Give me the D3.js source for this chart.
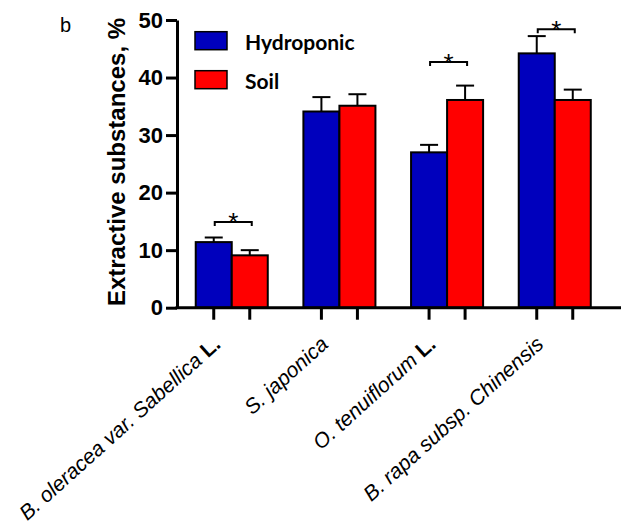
<!DOCTYPE html>
<html>
<head>
<meta charset="utf-8">
<script src="https://cdn.jsdelivr.net/npm/d3@7"></script>
<style>
  body { margin: 0; background: #fff; }
  svg { display: block; }
</style>
</head>
<body>
<svg id="chart" width="624" height="528"></svg>
<script>
const CATEGORIES = [
  ['B. oleracea var. Sabellica', ' L.'],
  ['S. japonica', ''],
  ['O. tenuiflorum', ' L.'],
  ['B. rapa subsp. Chinensis', '']
];
const SERIES = ['Hydroponic', 'Soil'];
const HYDRO = [11.4, 34.1, 27.0, 44.2];
const HYDRO_ERR = [0.8, 2.5, 1.3, 3.0];
const SOIL = [9.1, 35.1, 36.1, 36.1];
const SOIL_ERR = [0.9, 2.0, 2.5, 1.8];
// bracket level (data units) for the significance marks, null = none
const SIG = [14.9, null, 42.7, 48.4];
const Y_TICKS = [0, 10, 20, 30, 40, 50];
const COLORS = ['#0000bd', '#ff0000'];

const svg = d3.select('#chart');

const y = d3.scaleLinear().domain([0, 50]).range([307.7, 20]);
const x0 = d3.scaleBand().domain(d3.range(CATEGORIES.length))
  .range([177, 609.5]).paddingInner(0.331).paddingOuter(0.174);
const x1 = d3.scaleBand().domain(SERIES).range([0, x0.bandwidth()]);

const rows = CATEGORIES.map((c, i) => [
  { s: 'Hydroponic', v: HYDRO[i], e: HYDRO_ERR[i], i: i, k: 0 },
  { s: 'Soil', v: SOIL[i], e: SOIL_ERR[i], i: i, k: 1 }
]);
const flat = rows.flat();

// bars
svg.append('g').selectAll('rect')
  .data(flat).enter().append('rect')
  .attr('x', d => x0(d.i) + x1(d.s))
  .attr('y', d => y(d.v))
  .attr('width', x1.bandwidth())
  .attr('height', d => y(0) - y(d.v))
  .attr('fill', d => COLORS[d.k])
  .attr('stroke', '#000')
  .attr('stroke-width', 2);

// error bars
const eb = svg.append('g').attr('stroke', '#000').attr('stroke-width', 2);
flat.forEach(d => {
  const cx = x0(d.i) + x1(d.s) + x1.bandwidth() / 2;
  eb.append('line').attr('x1', cx).attr('x2', cx).attr('y1', y(d.v)).attr('y2', y(d.v + d.e));
  eb.append('line').attr('x1', cx - 9).attr('x2', cx + 9).attr('y1', y(d.v + d.e)).attr('y2', y(d.v + d.e));
});

// significance brackets
SIG.forEach((lvl, i) => {
  if (lvl == null) return;
  const a = x0(i) + x1('Hydroponic') + x1.bandwidth() / 2 + 1;
  const b = x0(i) + x1('Soil') + x1.bandwidth() / 2 + 2;
  const yy = y(lvl);
  svg.append('path')
    .attr('d', `M${a},${yy + 4}V${yy}H${b}V${yy + 4}`)
    .attr('fill', 'none').attr('stroke', '#000').attr('stroke-width', 2);
  svg.append('text')
    .attr('x', (a + b) / 2).attr('y', yy + 9.5)
    .attr('text-anchor', 'middle')
    .attr('font-family', 'Liberation Sans, Arial, sans-serif')
    .attr('font-size', 26)
    .text('*');
});

// y axis
const yAxis = svg.append('g')
  .attr('transform', 'translate(177,0)')
  .call(d3.axisLeft(y).tickValues(Y_TICKS).tickSize(11).tickSizeOuter(0).tickPadding(3));
yAxis.select('.domain').attr('stroke-width', 3);
yAxis.selectAll('.tick line').attr('stroke-width', 3);
yAxis.selectAll('.tick text')
  .attr('font-family', 'Liberation Sans, Arial, sans-serif')
  .attr('font-weight', 'bold').attr('font-size', 22).attr('fill', '#000');

// x axis: domain line + tick under each bar
const xa = svg.append('g').attr('stroke', '#000');
xa.append('line').attr('x1', 175.5).attr('x2', 621).attr('y1', y(0)).attr('y2', y(0)).attr('stroke-width', 3);
flat.forEach(d => {
  const cx = x0(d.i) + x1(d.s) + x1.bandwidth() / 2;
  xa.append('line').attr('x1', cx).attr('x2', cx).attr('y1', y(0)).attr('y2', y(0) + 12).attr('stroke-width', 3);
});

// category labels
CATEGORIES.forEach((c, i) => {
  const cx = x0(i) + x0.bandwidth() / 2;
  const t = svg.append('text')
    .attr('transform', `translate(${cx - 10},346) rotate(-42)`)
    .attr('text-anchor', 'end')
    .attr('font-family', 'Liberation Sans, Arial, sans-serif')
    .attr('font-size', 21);
  t.append('tspan').attr('font-style', 'italic').text(c[0]);
  if (c[1]) t.append('tspan').attr('font-weight', 'bold').text(c[1]);
});

// y title
svg.append('text')
  .attr('transform', 'translate(125,162) rotate(-90)')
  .attr('text-anchor', 'middle')
  .attr('font-family', 'Liberation Sans, Arial, sans-serif')
  .attr('font-weight', 'bold').attr('font-size', 24)
  .text('Extractive substances, %');

// panel letter
svg.append('text')
  .attr('x', 60).attr('y', 32)
  .attr('font-family', 'Liberation Sans, Arial, sans-serif')
  .attr('font-size', 20)
  .text('b');

// legend
const lg = svg.append('g').selectAll('g').data(SERIES).enter().append('g')
  .attr('transform', (d, i) => `translate(195,${31.7 + i * 39})`);
lg.append('rect').attr('width', 32).attr('height', 18)
  .attr('fill', (d, i) => COLORS[i]).attr('stroke', '#000').attr('stroke-width', 1.5);
lg.append('text').attr('x', 50).attr('y', 18)
  .attr('font-family', 'Lato, sans-serif').attr('font-weight', 'bold').attr('font-size', 21)
  .text(d => d);
</script>
</body>
</html>
